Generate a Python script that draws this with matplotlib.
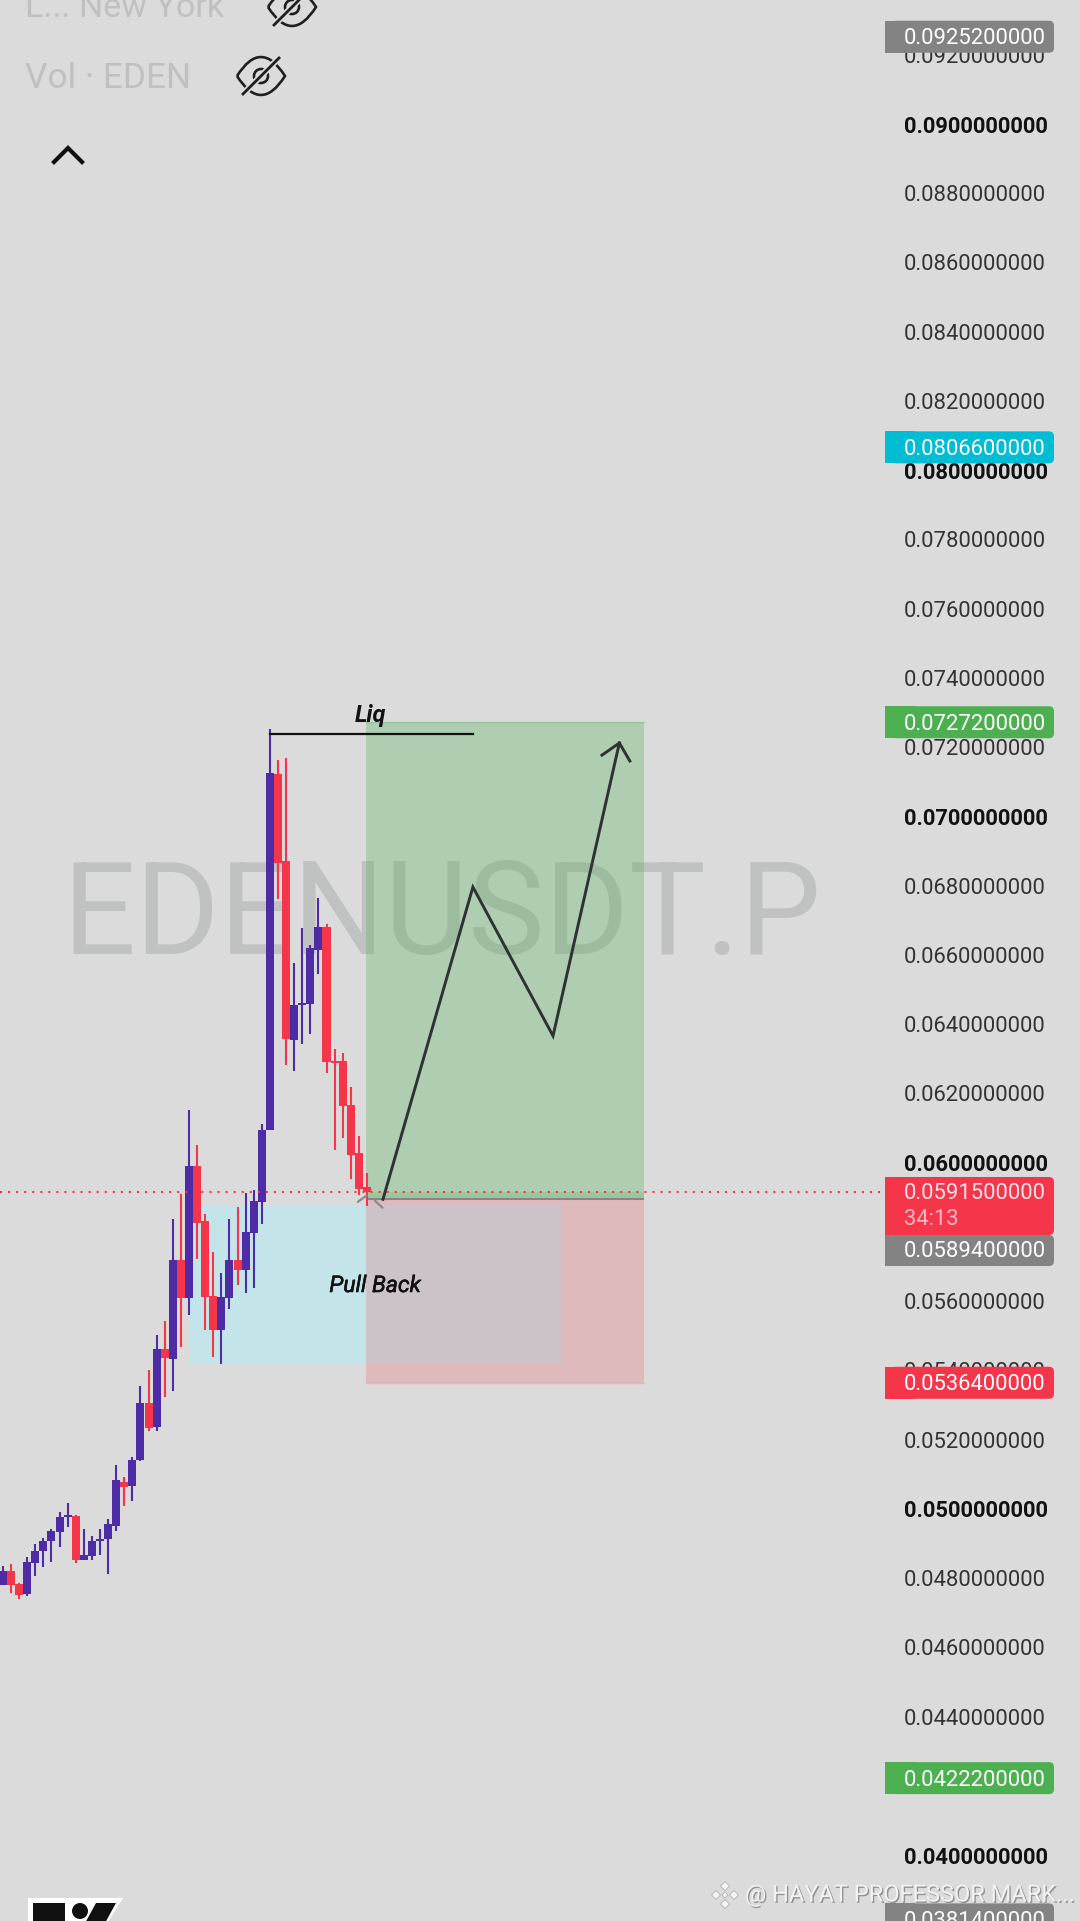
import numpy as np
import matplotlib
matplotlib.use('Agg')
from matplotlib import pyplot as plt
from matplotlib.patches import Rectangle, FancyBboxPatch, Polygon, Circle, PathPatch
from matplotlib.path import Path
import matplotlib.patheffects as pe

plt.rcParams['font.family'] = ['Roboto', 'DejaVu Sans']

opens = [.04780, .04820, .04783, .04754, .04843, .04878, .04907, .04933, .04976, .04979,
         .04852, .04864, .04907, .04913, .04950, .05077, .05066, .05141, .05306, .05236,
         .05462, .05433, .05719, .05609, .05990, .05831, .05615, .05516, .05609, .05719,
         .05690, .05797, .05886, .06094, .07122, .06871, .06354, .06455, .06458, .06614,
         .06681, .06294, .06294, .06166, .06028, .05930]
closes = [.04820, .04780, .04751, .04846, .04878, .04907, .04936, .04976, .04982, .04852,
          .04867, .04907, .04913, .04956, .05083, .05063, .05141, .05306, .05233, .05462,
          .05436, .05719, .05609, .05990, .05826, .05612, .05516, .05612, .05719, .05690,
          .05800, .05889, .06094, .07125, .06865, .06357, .06455, .06461, .06620, .06681,
          .06291, .06288, .06163, .06022, .05924, .05915]
highs = [.04835, .04841, .04786, .04861, .04898, .04916, .04942, .04991, .05017, .04982,
         .04942, .04921, .04942, .04971, .05127, .05092, .05150, .05355, .05401, .05502,
         .05542, .05837, .05909, .06152, .06051, .05852, .05742, .05681, .05837, .05872,
         .05912, .05921, .06111, .07252, .07163, .07169, .06577, .06678, .06629, .06764,
         .06689, .06328, .06317, .06218, .06077, .05970]
lows = [.04780, .04757, .04739, .04748, .04806, .04832, .04846, .04890, .04947, .04843,
        .04852, .04852, .04867, .04812, .04936, .05008, .05023, .05138, .05225, .05225,
        .05323, .05340, .05467, .05560, .05722, .05516, .05438, .05418, .05577, .05646,
        .05623, .05638, .05823, .06094, .06761, .06282, .06265, .06343, .06371, .06545,
        .06259, .06036, .06071, .05953, .05906, .05875]

tick_values = np.arange(40, 94, 2) / 1000

last_price = 0.05915
entry = 0.05894
take_profit = 0.07272
stop_loss = 0.05364
zone_top = 0.05878
zone_bottom = 0.05418
liq_level = 0.07238

path_x = [46.98, 58.1, 68.0, 76.2]
path_y = [0.05894, 0.06796, 0.06366, 0.07212]
head_x = [74.05, 76.2, 77.5]
head_y = [0.07177, 0.07212, 0.07160]

BG = '#dbdbdc'
UP = '#4e2ca5'
DOWN = '#f5364a'

# pixel <-> data mapping of the screenshot
PX_PER_BAR = 8.09
PX_X0 = 2.9
PX_PER_UNIT = 34620
def py(price):
    return 1855 - (price - 0.04) * PX_PER_UNIT

fig = plt.figure(figsize=(10.8, 19.21), dpi=100, facecolor=BG)

# watermark layer
bg = fig.add_axes([0, 0, 1, 1], zorder=0)
bg.set_xlim(0, 1080)
bg.set_ylim(1921, 0)
bg.axis('off')
bg.text(62, 954, 'EDENUSDT.P', fontsize=92.7, color='#c0c1c1', va='baseline', ha='left')
bg.text(25, 17, 'L... New York', fontsize=24.6, color='#c0c0c0', va='baseline')
bg.text(25, 88, 'Vol · EDEN', fontsize=25.4, color='#c0c0c0', va='baseline')

# chart
ax = fig.add_axes([0, 0, 1, 1], zorder=1)
ax.patch.set_alpha(0)
ax.set_xlim(-PX_X0 / PX_PER_BAR, (1080 - PX_X0) / PX_PER_BAR)
ax.set_ylim(0.04 - 66 / PX_PER_UNIT, 0.04 + 1855 / PX_PER_UNIT)
for s in ax.spines.values():
    s.set_visible(False)
ax.get_xaxis().set_visible(False)
ax.set_axisbelow(True)
ax.yaxis.tick_right()
ax.set_yticks(tick_values)
ax.set_yticklabels(['%.10f' % v for v in tick_values])
ax.tick_params(axis='y', length=0, pad=-(1080 - 904) * 0.72, labelsize=15.8, labelcolor='#333333')
for v, lab in zip(tick_values, ax.get_yticklabels()):
    lab.set_ha('left')
    if round(v * 1000) % 10 == 0:
        lab.set_fontweight('bold')
        lab.set_color('#111111')

ax.add_patch(Rectangle((23.13, zone_bottom), 68.99 - 23.13, zone_top - zone_bottom,
                       fc='#c3e5ea', ec='none', zorder=0.6))
ax.add_patch(Rectangle((44.88, entry), 79.25 - 44.88, take_profit - entry,
                       fc='#4caf50', alpha=0.3, ec='none', zorder=1))
ax.add_patch(Rectangle((44.88, stop_loss), 79.25 - 44.88, entry - stop_loss,
                       fc='#f23645', alpha=0.2, ec='none', zorder=1))
ax.add_patch(Rectangle((44.88, entry), 79.25 - 44.88, last_price - entry,
                       fc='#4caf50', alpha=0.2, ec='none', zorder=1))
ax.plot([44.88, 79.25], [entry, entry], color='#858585', lw=1.5, solid_capstyle='butt', zorder=1.5)
ax.plot([44.88, 79.25], [take_profit, take_profit], color='#4caf50', alpha=0.25, lw=1, zorder=1.5)
ax.plot([44.88, 79.25], [stop_loss, stop_loss], color='#f23645', alpha=0.2, lw=1, zorder=1.5)

for i in range(len(opens)):
    c = UP if closes[i] >= opens[i] else DOWN
    ax.vlines(i, lows[i], highs[i], color=c, lw=1.5, zorder=2)
    ax.bar(i, abs(closes[i] - opens[i]), bottom=min(opens[i], closes[i]), width=0.99,
           color=c, linewidth=0, zorder=2)

ax.axhline(last_price, xmax=885 / 1080, color=DOWN, lw=1.45, ls=(0, (1, 3)), zorder=3)

# cross marker on the entry
ax.plot([43.9, 44.9], [0.05887, 0.05904], color='#8a8a8a', lw=1.6, zorder=3)
ax.plot([46.0, 46.9], [0.05890, 0.05870], color='#8a8a8a', lw=1.6, zorder=3)

ax.plot([33.02, 58.1], [liq_level, liq_level], color='#111111', lw=1.6, zorder=3)
ax.plot(path_x, path_y, color='#2f3133', lw=2.1, solid_joinstyle='miter', zorder=3)
ax.plot(head_x, head_y, color='#2f3133', lw=2.1, solid_joinstyle='miter', zorder=3)
ax.text(45.4, 0.07272, 'Liq', fontsize=17, style='italic', fontweight='bold',
        color='#111111', ha='center', va='baseline', zorder=4)
ax.text(46.0, 0.05645, 'Pull Back', fontsize=16.5, style='italic', fontweight='normal',
        color='#111111', ha='center', va='center', zorder=4,
        path_effects=[pe.withStroke(linewidth=0.4, foreground='#111111')])

# overlay: price tags, icons, logo
ui = fig.add_axes([0, 0, 1, 1], zorder=2)
ui.patch.set_alpha(0)
ui.set_xlim(0, 1080)
ui.set_ylim(1921, 0)
ui.axis('off')

def tag(y0, y1, color):
    ui.add_patch(FancyBboxPatch((896, y0 + 5), 153, y1 - y0 - 10, boxstyle='round,pad=5',
                                fc=color, ec='none', zorder=5))
    ui.add_patch(Rectangle((885, y0), 30, y1 - y0, fc=color, ec='none', zorder=5))

tags = [(0.09252, '#838383'), (0.08066, '#00bcd4'), (0.07272, '#4caf50'),
        (0.05364, DOWN), (0.04222, '#4caf50'), (0.03814, '#838383')]
for price, col in tags:
    yc = py(price)
    tag(yc - 16, yc + 16, col)
    ui.text(904, yc - 0.5, '%.10f' % price, color='white', fontsize=15.8, va='center_baseline', zorder=6)

tag(1177, 1235, DOWN)
ui.text(904, 1191, '%.10f' % last_price, color='#fbe3e6', fontsize=15.8, va='center_baseline', zorder=6)
ui.text(904, 1217, '34:13', color='#fbb7bf', fontsize=15.8, va='center_baseline', zorder=6)
tag(1235, 1266, '#838383')
ui.text(904, 1249, '%.10f' % entry, color='white', fontsize=15.8, va='center_baseline', zorder=6)

def eye(cx, cy):
    lens = Path([(cx - 24, cy), (cx, cy - 38), (cx + 24, cy), (cx, cy + 38), (cx - 24, cy)],
                [Path.MOVETO, Path.CURVE3, Path.CURVE3, Path.CURVE3, Path.CURVE3])
    ui.add_patch(PathPatch(lens, fc='none', ec='#1f1f1f', lw=1.9, zorder=3))
    ui.add_patch(Circle((cx, cy), 7, fc='none', ec='#1f1f1f', lw=1.9, zorder=3))
    ui.plot([cx - 18, cx + 18], [cy + 18, cy - 18], color=BG, lw=4.5, zorder=3.5)
    ui.plot([cx - 18, cx + 18], [cy + 18, cy - 18], color='#1f1f1f', lw=2, zorder=4)

eye(261, 76)
eye(292, 7)
ui.plot([54, 68, 82], [162, 148, 162], color='#111111', lw=3, solid_joinstyle='miter')

# logo, cut by the bottom edge
ui.add_patch(Polygon([(28, 1898), (123, 1898), (106, 1925), (28, 1925)], fc='white', ec='none'))
ui.add_patch(Rectangle((33, 1903), 32, 20, fc='#111111', ec='none'))
ui.add_patch(Circle((80, 1911), 8, fc='#111111', ec='none'))
ui.add_patch(Polygon([(96, 1903), (116, 1903), (104, 1925), (84, 1925)], fc='#111111', ec='none'))

# binance mark and user name
for dx, dy in [(-9, 0), (9, 0), (0, -9), (0, 9), (0, 0)]:
    r = 4.5 if (dx or dy) else 3
    ui.add_patch(Polygon([(725 + dx - r, 1895 + dy), (725 + dx, 1895 + dy - r),
                          (725 + dx + r, 1895 + dy), (725 + dx, 1895 + dy + r)],
                         fc='#f4f4f4', ec='#a8a8a8', lw=0.5, zorder=7))
ui.text(745, 1895, '@ HAYAT PROFESSOR MARK...', color='#f2f2f2', fontsize=17, va='center',
        zorder=7, path_effects=[pe.withSimplePatchShadow(offset=(1, -1), shadow_rgbFace='#8c8c8c', alpha=0.9)])

fig.savefig('out.png', dpi=100, facecolor=BG)
